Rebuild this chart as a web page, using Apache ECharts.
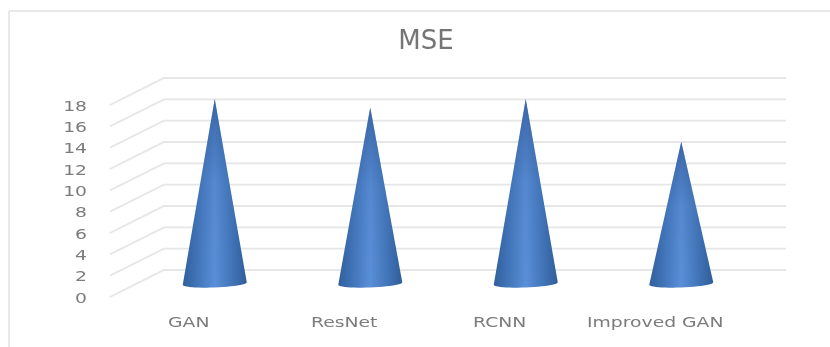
<!DOCTYPE html>
<html>
<head>
<meta charset="utf-8">
<style>html,body{margin:0;padding:0;background:#fff}#chart{width:830px;height:347px}</style>
<script src="https://cdn.jsdelivr.net/npm/echarts@6/dist/echarts.min.js"></script>
</head>
<body>
<div id="chart"></div>
<script>
const chartTitle = 'MSE';
const categories = ['GAN', 'ResNet', 'RCNN', 'Improved GAN'];
const mseValues = [17.3, 16.5, 17.3, 13.3];
const yTicks = [0, 2, 4, 6, 8, 10, 12, 14, 16, 18];

// Pseudo-3D box: the plot area is the front plane, the wall sits behind it.
const DEPTH_X = 54, DEPTH_Y = -27;
const CONE_RADIUS = 32;
const LABEL_FONT = '14px "DejaVu Sans"';
const LABEL_COLOR = '#7c7c7c';
const LABEL_STRETCH = 1.34;

function renderGridLine(params, api) {
  const p = api.coord([0, api.value(0)]);
  const left = params.coordSys.x;
  const right = left + params.coordSys.width;
  return {
    type: 'polyline',
    shape: { points: [[left - 1, p[1]], [left + DEPTH_X - 1, p[1] + DEPTH_Y], [right + DEPTH_X - 1, p[1] + DEPTH_Y]] },
    style: { stroke: '#e6e6e6', lineWidth: 1.8, fill: 'none' }
  };
}

function renderCone(params, api) {
  const idx = api.value(0);
  const base = api.coord([idx, 0]);
  const top = api.coord([idx, api.value(1)]);
  const cx = base[0] + DEPTH_X / 2 - 1;
  const by = base[1] + DEPTH_Y / 2;
  const apex = [cx, top[1] + DEPTH_Y / 2];
  const outline = [apex];
  // Front rim of the base, slightly tilted like a perspective ellipse.
  for (let i = 0; i <= 24; i++) {
    const t = Math.PI * i / 24;
    const x = cx + CONE_RADIUS * Math.cos(Math.PI - t);
    const y = by + 4 * Math.sin(t) + 1.2 * Math.cos(t);
    outline.push([x, y]);
  }
  return {
    type: 'group',
    children: [
      {
        type: 'polygon',
        shape: { points: outline },
        style: {
          fill: new echarts.graphic.LinearGradient(0, 0, 1, 0, [
            { offset: 0, color: '#315f9b' },
            { offset: 0.2, color: '#3f72b6' },
            { offset: 0.5, color: '#5a90d9' },
            { offset: 0.8, color: '#3f72b5' },
            { offset: 1, color: '#305d97' }
          ])
        }
      },
      {
        type: 'polygon',
        shape: { points: outline },
        style: {
          fill: new echarts.graphic.LinearGradient(0, 0, 0, 1, [
            { offset: 0, color: 'rgba(40,75,135,0.6)' },
            { offset: 0.45, color: 'rgba(40,75,135,0.1)' },
            { offset: 1, color: 'rgba(40,75,135,0)' }
          ])
        }
      }
    ]
  };
}

function stretchedText(text, x, y, align) {
  return {
    type: 'text', x: x, y: y, scaleX: LABEL_STRETCH,
    style: { text: text, font: LABEL_FONT, fill: LABEL_COLOR, textAlign: align, textVerticalAlign: 'middle' }
  };
}

function renderCategoryLabel(params, api) {
  const p = api.coord([api.value(0), 0]);
  return stretchedText(categories[api.value(0)], p[0], p[1] + 26, 'center');
}

function renderTickLabel(params, api) {
  const p = api.coord([0, api.value(0)]);
  return stretchedText(String(api.value(0)), params.coordSys.x - 24, p[1] + 2, 'right');
}

const option = {
  animation: false,
  backgroundColor: '#ffffff',
  title: {
    text: chartTitle, left: 421, top: 24, textAlign: 'center',
    textStyle: { fontFamily: 'DejaVu Sans', fontSize: 26, fontWeight: 'normal', color: '#757575' }
  },
  grid: { left: 111, right: 97, top: 105, bottom: 50 },
  xAxis: {
    type: 'category', data: categories,
    axisLine: { show: false }, axisTick: { show: false }, axisLabel: { show: false }
  },
  yAxis: {
    type: 'value', min: 0, max: 18, interval: 2,
    axisLine: { show: false }, axisTick: { show: false }, axisLabel: { show: false }, splitLine: { show: false }
  },
  series: [
    { type: 'custom', name: 'grid', silent: true, clip: false, z: 1, data: yTicks.map(v => [v]), encode: { y: 0 }, renderItem: renderGridLine },
    { type: 'custom', name: chartTitle, silent: true, clip: false, z: 3, data: mseValues.map((v, i) => [i, v]), encode: { x: 0, y: 1 }, renderItem: renderCone },
    { type: 'custom', name: 'categoryLabels', silent: true, clip: false, z: 4, data: categories.map((c, i) => [i]), encode: { x: 0 }, renderItem: renderCategoryLabel },
    { type: 'custom', name: 'tickLabels', silent: true, clip: false, z: 4, data: yTicks.map(v => [v]), encode: { y: 0 }, renderItem: renderTickLabel }
  ],
  graphic: [
    { type: 'line', silent: true, shape: { x1: 9, y1: 11, x2: 830, y2: 11 }, style: { stroke: '#e8e8e8', lineWidth: 2 } },
    { type: 'line', silent: true, shape: { x1: 9, y1: 11, x2: 9, y2: 347 }, style: { stroke: '#e8e8e8', lineWidth: 2 } }
  ]
};

echarts.init(document.getElementById('chart'), null, { renderer: 'canvas' }).setOption(option);
</script>
</body>
</html>
